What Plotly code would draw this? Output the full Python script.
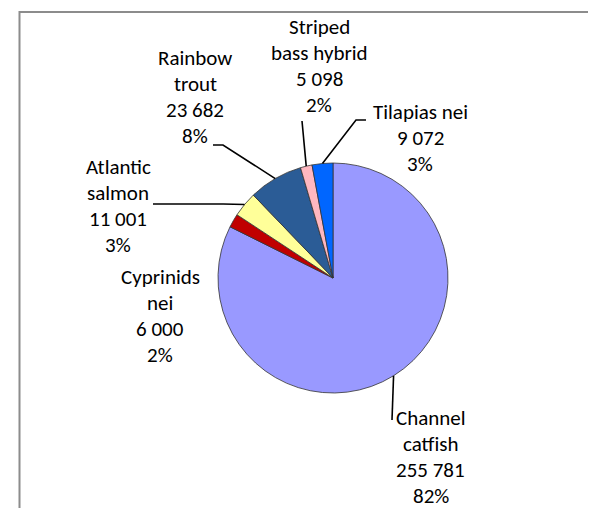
import math
import plotly.graph_objects as go

# ---- data ----
species = ["Channel catfish", "Cyprinids nei", "Atlantic salmon",
           "Rainbow trout", "Striped bass hybrid", "Tilapias nei"]
name_lines = [["Channel", "catfish"], ["Cyprinids", "nei"], ["Atlantic", "salmon"],
              ["Rainbow", "trout"], ["Striped", "bass hybrid"], ["Tilapias nei"]]
tonnes = [255781, 6000, 11001, 23682, 5098, 9072]
pct_labels = ["82%", "2%", "3%", "8%", "2%", "3%"]

# ---- styling / layout ----
colors = ["#9999FF", "#C00000", "#FFFF99", "#2B5C96", "#FFB7C0", "#0066FF"]
W, H = 596, 508
CX, CY, R = 325, 270, 115          # pie centre / radius in pixels
FONT = "Carlito, Lato, sans-serif"
FS = 21
LINE = 26                          # line spacing in pixels

# label anchor: (centre x, centre y of first line) in pixels
label_pos = [(423, 410), (152, 269), (110, 159), (187, 50), (311, 19), (412, 104)]
leader_start = [[(384, 412)], None, [(145, 196), (215, 196)],
                [(205, 137), (215, 137)], [(294, 113)], [(358, 112), (348, 112)]]


def px(x, y):
    return x / W, 1 - y / H


fig = go.Figure(go.Pie(
    labels=species, values=tonnes, sort=False, direction="clockwise",
    rotation=0, textinfo="none", hoverinfo="label+value+percent",
    marker=dict(colors=colors, line=dict(color="#333333", width=0.8)),
    domain=dict(x=[(CX - R) / W, (CX + R) / W], y=[1 - (CY + R) / H, 1 - (CY - R) / H]),
    showlegend=False,
))


def fmt(v):
    return f"{v:,}".replace(",", " ")


total = sum(tonnes)
cum = 0
shapes = []
annotations = []
for i, v in enumerate(tonnes):
    mid = (cum + v / 2) / total
    cum += v
    th = 2 * math.pi * mid
    ex, ey = CX + R * math.sin(th), CY - R * math.cos(th)
    if leader_start[i]:
        pts = leader_start[i] + [(ex, ey)]
        path = ""
        for k, (x, y) in enumerate(pts):
            X, Y = px(x, y)
            path += ("M" if k == 0 else "L") + f"{X:.5f},{Y:.5f} "
        shapes.append(dict(type="path", xref="paper", yref="paper", path=path,
                           line=dict(color="black", width=1.6)))
    lines = name_lines[i] + [fmt(v), pct_labels[i]]
    lx, ly = label_pos[i]
    for j, t in enumerate(lines):
        X, Y = px(lx, ly + j * LINE)
        annotations.append(dict(
            x=X, y=Y, xref="paper", yref="paper", xanchor="center", yanchor="middle",
            text=t, showarrow=False, borderpad=0,
            font=dict(family=FONT, size=FS, color="black")))

# chart-area frame (top and left edges visible)
fx0, fy0 = px(11.5, 4)
fx1, fy1 = px(W + 10, H + 10)
shapes.append(dict(type="path", xref="paper", yref="paper",
                   path=f"M{fx0:.5f},{fy1:.5f} L{fx0:.5f},{fy0:.5f} L{fx1:.5f},{fy0:.5f}",
                   line=dict(color="#8C8C8C", width=2)))

fig.update_layout(
    width=W, height=H, margin=dict(l=0, r=0, t=0, b=0),
    paper_bgcolor="white", plot_bgcolor="white",
    shapes=shapes, annotations=annotations,
    font=dict(family=FONT),
)

fig.write_html("out.html")
